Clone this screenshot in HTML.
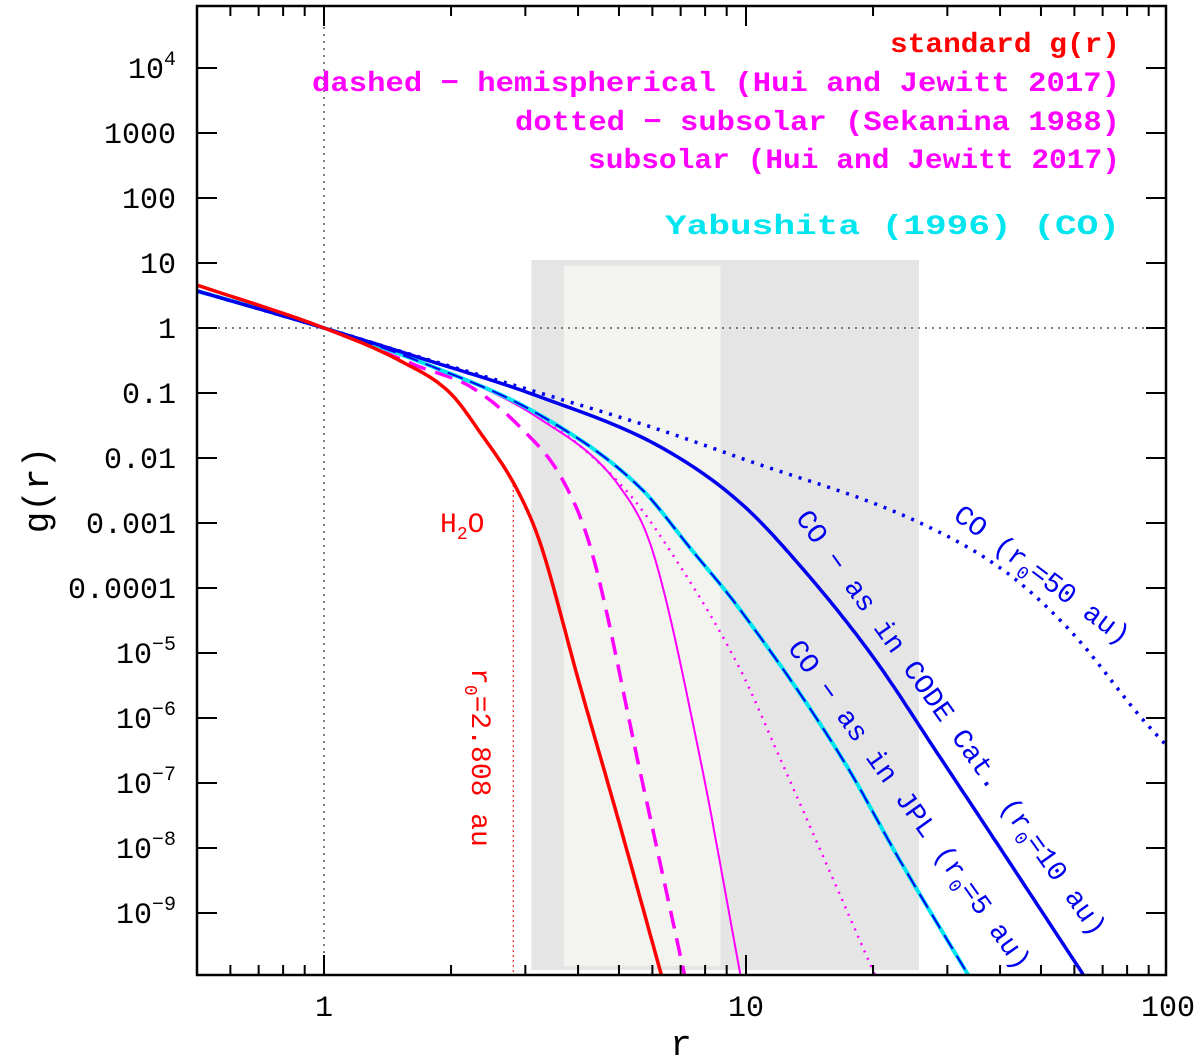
<!DOCTYPE html>
<html><head><meta charset="utf-8"><style>
html,body{margin:0;padding:0;background:#fff}
svg{display:block}
text{font-family:"Liberation Mono",monospace}
</style></head><body>
<svg id="chart" width="1200" height="1062" viewBox="0 0 1200 1062" xmlns="http://www.w3.org/2000/svg">
<defs><clipPath id="clip"><rect x="197" y="6" width="969" height="969"/></clipPath></defs>
<g id="bg"></g>
<g id="curves" clip-path="url(#clip)"></g>
<g id="axes"></g>
<g id="labels"></g>
</svg>
<script>
// ---- data (r in au, log10 g) ----
const xTickMajor = [1, 10, 100];
const xTickLabels = ["1", "10", "100"];
const yTickExp = [4, 3, 2, 1, 0, -1, -2, -3, -4, -5, -6, -7, -8, -9];
const yTickLabels = ["10^4","1000","100","10","1","0.1","0.01","0.001","0.0001","10^-5","10^-6","10^-7","10^-8","10^-9"];
const stdR = [0.5, 1, 1.51, 1.99, 2.34, 2.87, 3.25, 4.0, 5.0, 6.3];
const stdG = [0.66, 0, -0.5, -1.0, -1.6, -2.49, -3.3, -5.4, -7.6, -9.95];
const co50R = [0.5, 1, 1.69, 3.25, 6.27, 9.7, 25.5, 41.6, 59.3, 86, 100];
const co50G = [0.57, 0, -0.45, -1.0, -1.57, -2.0, -2.98, -3.77, -4.69, -5.98, -6.45];
const co10R = [0.5, 1, 1.69, 3.25, 6.27, 9.7, 13.9, 20, 28.8, 40, 63];
const co10G = [0.57, 0, -0.46, -1.06, -1.83, -2.69, -3.77, -5.06, -6.6, -8.0, -9.95];
const yabR = [0.5, 1, 1.69, 3.25, 5.6, 7.45, 9.7, 17, 23.2, 33.6];
const yabG = [0.57, 0, -0.52, -1.34, -2.45, -3.42, -4.34, -6.65, -8.2, -9.95];
const jplR = [0.5, 1, 1.69, 3.25, 5.6, 7.45, 9.7, 17, 23.2, 37];
const jplG = [0.57, 0, -0.52, -1.34, -2.45, -3.42, -4.34, -6.65, -8.2, -10.4];
const sekR = [0.5, 1, 1.69, 3.25, 5.2, 6.6, 9.7, 12, 20.2];
const sekG = [0.57, 0, -0.52, -1.36, -2.5, -3.42, -5.26, -6.6, -9.95];
const hjSubR = [0.5, 1, 1.69, 3.25, 5.03, 6.0, 7.8, 9.7];
const hjSubG = [0.57, 0, -0.52, -1.4, -2.45, -3.42, -6.65, -9.95];
const hjHemR = [0.5, 1, 1.69, 2.22, 2.91, 3.68, 4.3, 5.6, 7.15];
const hjHemG = [0.57, 0, -0.6, -0.9, -1.52, -2.34, -3.42, -6.8, -9.95];

// ---- axis functions ----
const X = r => 324 + 422 * Math.log10(r);
const Y = lg => 328 - 65 * lg;
const NS = "http://www.w3.org/2000/svg";
function mk(tag, attrs, parent) {
  const e = document.createElementNS(NS, tag);
  for (const k in attrs) e.setAttribute(k, attrs[k]);
  parent.appendChild(e); return e;
}
const bg = document.getElementById('bg'), cv = document.getElementById('curves'),
      ax = document.getElementById('axes');

let b1 = mk('rect', {x: X(3.1), y: 260, width: X(25.7) - X(3.1), height: 710, fill: '#e5e5e5'}, bg);


let b2 = mk('rect', {x: X(3.7), y: 266, width: X(8.7) - X(3.7), height: 700, fill: '#f3f3ef'}, bg);



let rv = mk('line', {x1: X(1), y1: 6, x2: X(1), y2: 975, stroke: '#555', 'stroke-width': 1.5, 'stroke-dasharray': '2,5'}, bg);


let rh = mk('line', {x1: 197, y1: Y(0), x2: 1166, y2: Y(0), stroke: '#555', 'stroke-width': 1.5, 'stroke-dasharray': '2,5'}, bg);


let r0 = mk('line', {x1: X(2.808), y1: 480, x2: X(2.808), y2: 975, stroke: '#f00', 'stroke-width': 1, 'stroke-dasharray': '2,3'}, bg);



// monotone cubic (Fritsch-Carlson) in log r
function pathD(rs, gs) {
  const xs = rs.map(r => Math.log10(r)), ys = gs.slice(), n = xs.length;
  const d = [], m = new Array(n);
  for (let i = 0; i < n - 1; i++) d.push((ys[i + 1] - ys[i]) / (xs[i + 1] - xs[i]));
  m[0] = d[0]; m[n - 1] = d[n - 2];
  for (let i = 1; i < n - 1; i++) m[i] = (d[i - 1] * d[i] <= 0) ? 0 : (d[i - 1] + d[i]) / 2;
  for (let i = 0; i < n - 1; i++) {
    if (d[i] === 0) { m[i] = 0; m[i + 1] = 0; continue; }
    const a = m[i] / d[i], b = m[i + 1] / d[i], s = a * a + b * b;
    if (s > 9) { const t = 3 / Math.sqrt(s); m[i] = t * a * d[i]; m[i + 1] = t * b * d[i]; }
  }
  let out = '';
  for (let i = 0; i < n - 1; i++) {
    const h = xs[i + 1] - xs[i];
    for (let k = 0; k <= 20; k++) {
      if (i > 0 && k === 0) continue;
      const t = k / 20, t2 = t * t, t3 = t2 * t;
      const y = (2*t3 - 3*t2 + 1) * ys[i] + (t3 - 2*t2 + t) * h * m[i] + (-2*t3 + 3*t2) * ys[i + 1] + (t3 - t2) * h * m[i + 1];
      const x = xs[i] + t * h;
      out += (out ? 'L' : 'M') + (324 + 422 * x).toFixed(1) + ',' + Y(y).toFixed(1);
    }
  }
  return out;
}
function curve(name, rs, gs, color, w, dash) {
  const a = {d: pathD(rs, gs), fill: 'none', stroke: color, 'stroke-width': w, 'stroke-linejoin': 'round'};
  if (dash) a['stroke-dasharray'] = dash;
  const e = mk('path', a, cv);
  
  
}
curve('sekanina-subsolar-curve', sekR, sekG, '#ff00ff', 2.5, '2,6');
curve('hui-jewitt-subsolar-curve', hjSubR, hjSubG, '#ff00ff', 2);
curve('hui-jewitt-hemispherical-curve', hjHemR, hjHemG, '#ff00ff', 3.5, '18,10');
curve('yabushita-co-curve', yabR, yabG, '#00e5ee', 4);
curve('co-jpl-curve', jplR, jplG, '#0000ee', 2, '16,8');
curve('co-code-curve', co10R, co10G, '#0000ee', 3.5);
curve('co-r0-50-curve', co50R, co50G, '#0000ee', 3.5, '3,7');
curve('standard-g-curve', stdR, stdG, '#ff0000', 3.5);

let fr = mk('rect', {x: 197, y: 6, width: 969, height: 969, fill: 'none', stroke: '#000', 'stroke-width': 2.5}, ax);


for (let dec = -1; dec <= 1; dec++) {
  for (let m = 1; m <= 9; m++) {
    const r = m * Math.pow(10, dec);
    if (r < 0.5 || r > 100) continue;
    const len = m === 1 ? 20 : 10, x = X(r);
    let t = mk('line', {x1: x, y1: 975, x2: x, y2: 975 - len, stroke: '#000', 'stroke-width': 2}, ax);
    
    
    let t2 = mk('line', {x1: x, y1: 6, x2: x, y2: 6 + len, stroke: '#000', 'stroke-width': 2}, ax);
    
    
  }
}
xTickMajor.forEach((r, i) => {
  let t = mk('text', {x: X(r), y: 1016, 'font-size': 30, 'text-anchor': 'middle', fill: '#000'}, ax);
  t.textContent = xTickLabels[i];
  
  
});
yTickExp.forEach((e, i) => {
  const y = Y(e);
  let t = mk('line', {x1: 197, y1: y, x2: 217, y2: y, stroke: '#000', 'stroke-width': 2}, ax);
  
  
  let t2 = mk('line', {x1: 1146, y1: y, x2: 1166, y2: y, stroke: '#000', 'stroke-width': 2}, ax);
  
  
  let tx = mk('text', {x: 176, y: y + 10, 'font-size': 30, 'text-anchor': 'end', fill: '#000'}, ax);
  const lab = yTickLabels[i];
  if (lab.startsWith('10^')) {
    tx.textContent = '10';
    const s = mk('tspan', {dy: -13, 'font-size': 20}, tx);
    s.textContent = lab.slice(3).replace('-', '\u2212');
  } else tx.textContent = lab;
  
  
});

document.getElementById('labels').innerHTML = `
<text x="681" y="1055" font-size="36" text-anchor="middle">r</text>
<text transform="translate(48,490) rotate(-90)" font-size="36" text-anchor="middle">g(r)</text>
<g font-size="28" font-weight="bold" text-anchor="end">
<text x="1120" y="52" fill="#ff0000" textLength="230" lengthAdjust="spacingAndGlyphs">standard g(r)</text>
<text x="1120" y="91" fill="#ff00ff" textLength="808" lengthAdjust="spacingAndGlyphs">dashed − hemispherical (Hui and Jewitt 2017)</text>
<text x="1120" y="130" fill="#ff00ff" textLength="605" lengthAdjust="spacingAndGlyphs">dotted − subsolar (Sekanina 1988)</text>
<text x="1120" y="168" fill="#ff00ff" textLength="532" lengthAdjust="spacingAndGlyphs">subsolar (Hui and Jewitt 2017)</text>
<text x="1120" y="234" fill="#00e5ee" textLength="455" lengthAdjust="spacingAndGlyphs">Yabushita (1996) (CO)</text>
</g>
<g font-size="28" fill="#0000ee">
<text transform="translate(952,518) rotate(37)">CO (r<tspan font-size="18" dy="7">0</tspan><tspan dy="-7">=50 au)</tspan></text>
<text transform="translate(795,518) rotate(54.6)">CO − as in CODE Cat. (r<tspan font-size="18" dy="7">0</tspan><tspan dy="-7">=10 au)</tspan></text>
<text transform="translate(787,648) rotate(54.5)">CO − as in JPL (r<tspan font-size="18" dy="7">0</tspan><tspan dy="-7">=5 au)</tspan></text>
</g>
<g font-size="28" fill="#ff0000">
<text x="440" y="532">H<tspan font-size="18" dy="7">2</tspan><tspan dy="-7">O</tspan></text>
<text transform="translate(472,668) rotate(90)">r<tspan font-size="18" dy="7">0</tspan><tspan dy="-7">=2.808 au</tspan></text>
</g>`;
</script>
</body></html>
